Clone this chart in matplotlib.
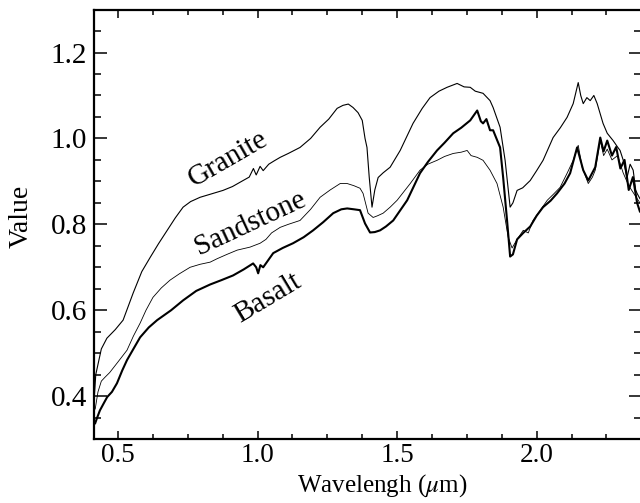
import numpy as np
import matplotlib
matplotlib.use("Agg")
import matplotlib.pyplot as plt
from matplotlib.ticker import MultipleLocator

plt.rcParams["font.family"] = ["Liberation Serif", "DejaVu Serif"]
plt.rcParams["mathtext.fontset"] = "stix"

# reflectance curves (wavelength in um, value)
granite_wl = [0.415, 0.42, 0.43, 0.44, 0.46, 0.49, 0.518, 0.554, 0.585, 0.615, 0.645,
              0.676, 0.705, 0.733, 0.76, 0.794, 0.83, 0.876, 0.91, 0.948, 0.97, 0.985,
              0.995, 1.009, 1.02, 1.04, 1.06, 1.081, 1.11, 1.152, 1.19, 1.224, 1.255,
              1.285, 1.306, 1.325, 1.342, 1.36, 1.375, 1.385, 1.392, 1.40, 1.41, 1.42,
              1.432, 1.45, 1.475, 1.511, 1.557, 1.59, 1.618, 1.65, 1.679, 1.715, 1.74,
              1.762, 1.78, 1.808, 1.833, 1.844, 1.869, 1.887, 1.905, 1.915, 1.93, 1.95,
              1.977, 2.0, 2.023, 2.059, 2.085, 2.109, 2.131, 2.149, 2.158, 2.167, 2.18,
              2.192, 2.205, 2.217, 2.238, 2.253, 2.274, 2.29, 2.299, 2.31, 2.324, 2.335,
              2.346, 2.355, 2.36, 2.37]
granite_val = [0.40, 0.45, 0.48, 0.51, 0.535, 0.555, 0.577, 0.64, 0.69, 0.723, 0.755,
               0.786, 0.815, 0.84, 0.853, 0.863, 0.87, 0.879, 0.888, 0.902, 0.91, 0.93,
               0.915, 0.935, 0.925, 0.94, 0.948, 0.956, 0.965, 0.979, 1.0, 1.026, 1.045,
               1.07, 1.077, 1.08, 1.072, 1.06, 1.042, 1.0, 0.979, 0.91, 0.84, 0.88,
               0.909, 0.92, 0.933, 0.972, 1.035, 1.07, 1.095, 1.11, 1.119, 1.128, 1.12,
               1.119, 1.11, 1.105, 1.088, 1.072, 1.026, 0.949, 0.84, 0.85, 0.879, 0.885,
               0.902, 0.925, 0.949, 1.002, 1.025, 1.049, 1.081, 1.13, 1.10, 1.081, 1.095,
               1.088, 1.10, 1.081, 1.035, 1.012, 0.995, 0.98, 0.972, 0.95, 0.909, 0.94,
               0.926, 0.88, 0.872, 0.86]

sandstone_wl = [0.418, 0.428, 0.44, 0.453, 0.47, 0.482, 0.50, 0.532, 0.555, 0.579, 0.60,
                0.625, 0.655, 0.686, 0.72, 0.758, 0.794, 0.83, 0.855, 0.89, 0.927, 0.973,
                1.009, 1.03, 1.05, 1.081, 1.11, 1.152, 1.19, 1.224, 1.26, 1.296, 1.321,
                1.345, 1.367, 1.378, 1.396, 1.414, 1.43, 1.45, 1.475, 1.50, 1.547, 1.582,
                1.61, 1.643, 1.67, 1.701, 1.73, 1.751, 1.765, 1.787, 1.808, 1.833, 1.858,
                1.88, 1.898, 1.912, 1.93, 1.952, 1.97, 1.987, 2.01, 2.038, 2.06, 2.084,
                2.11, 2.131, 2.149, 2.163, 2.185, 2.20, 2.21, 2.228, 2.24, 2.253, 2.27,
                2.29, 2.31, 2.33, 2.35, 2.37]
sandstone_val = [0.37, 0.41, 0.435, 0.444, 0.455, 0.465, 0.48, 0.507, 0.54, 0.57, 0.60,
                 0.63, 0.652, 0.67, 0.685, 0.70, 0.707, 0.712, 0.72, 0.73, 0.74, 0.747,
                 0.756, 0.765, 0.78, 0.793, 0.80, 0.809, 0.835, 0.863, 0.88, 0.895, 0.895,
                 0.89, 0.884, 0.872, 0.826, 0.816, 0.82, 0.826, 0.84, 0.856, 0.895, 0.926,
                 0.94, 0.949, 0.958, 0.965, 0.968, 0.972, 0.96, 0.956, 0.949, 0.926, 0.895,
                 0.84, 0.77, 0.745, 0.765, 0.786, 0.78, 0.809, 0.83, 0.856, 0.87, 0.886,
                 0.92, 0.949, 0.984, 0.933, 0.895, 0.91, 0.926, 0.995, 0.96, 0.975, 0.95,
                 0.96, 0.92, 0.89, 0.87, 0.85]

basalt_wl = [0.418, 0.425, 0.435, 0.45, 0.461, 0.478, 0.496, 0.515, 0.532, 0.555, 0.579,
             0.61, 0.64, 0.69, 0.733, 0.78, 0.83, 0.87, 0.912, 0.95, 0.984, 0.995, 1.002,
             1.01, 1.02, 1.056, 1.09, 1.127, 1.165, 1.199, 1.235, 1.271, 1.30, 1.321,
             1.345, 1.367, 1.385, 1.403, 1.42, 1.439, 1.46, 1.486, 1.536, 1.582, 1.61,
             1.643, 1.67, 1.701, 1.73, 1.762, 1.787, 1.80, 1.808, 1.82, 1.833, 1.844,
             1.869, 1.88, 1.894, 1.905, 1.915, 1.93, 1.952, 1.977, 2.0, 2.023, 2.05,
             2.073, 2.10, 2.12, 2.145, 2.167, 2.185, 2.21, 2.228, 2.24, 2.253, 2.27,
             2.285, 2.30, 2.315, 2.33, 2.345, 2.36, 2.37]
basalt_val = [0.337, 0.35, 0.367, 0.385, 0.398, 0.41, 0.43, 0.46, 0.484, 0.51, 0.537,
              0.56, 0.577, 0.60, 0.623, 0.645, 0.66, 0.67, 0.681, 0.695, 0.709, 0.70, 0.686,
              0.705, 0.70, 0.733, 0.745, 0.756, 0.77, 0.786, 0.805, 0.826, 0.835, 0.837,
              0.835, 0.833, 0.802, 0.781, 0.782, 0.786, 0.795, 0.809, 0.856, 0.919, 0.945,
              0.972, 0.99, 1.012, 1.025, 1.042, 1.065, 1.04, 1.035, 1.045, 1.019, 1.019,
              0.979, 0.909, 0.809, 0.725, 0.73, 0.765, 0.78, 0.795, 0.82, 0.84, 0.855,
              0.872, 0.895, 0.919, 0.979, 0.926, 0.902, 0.933, 1.002, 0.97, 0.995, 0.96,
              0.98, 0.93, 0.95, 0.88, 0.91, 0.85, 0.83]

labels = ["Granite", "Sandstone", "Basalt"]
label_pos = [(0.894, 0.953, 30), (0.973, 0.802, 25), (1.038, 0.628, 31)]

fig = plt.figure(figsize=(6.4, 5.03), dpi=100)
ax = fig.add_axes([0.147, 0.127, 0.855, 0.854])

ax.plot(granite_wl, granite_val, color="black", lw=0.8)
ax.plot(sandstone_wl, sandstone_val, color="black", lw=0.6)
ax.plot(basalt_wl, basalt_val, color="black", lw=1.5)

for name, (x, y, rot) in zip(labels, label_pos):
    ax.text(x, y, name, rotation=rot, ha="center", va="center", fontsize=21)

ax.set_xlim(0.414, 2.375)
ax.set_ylim(0.3, 1.3)
ax.xaxis.set_major_locator(MultipleLocator(0.5))
ax.xaxis.set_minor_locator(MultipleLocator(0.125))
ax.yaxis.set_major_locator(MultipleLocator(0.2))
ax.yaxis.set_minor_locator(MultipleLocator(0.05))
ax.xaxis.set_major_formatter(plt.FuncFormatter(lambda v, p: f"{v:.1f}"))
ax.yaxis.set_major_formatter(plt.FuncFormatter(lambda v, p: f"{v:.1f}"))

ax.tick_params(axis="both", which="both", direction="in", top=True, right=True,
               width=1.1, labelsize=21)
ax.tick_params(axis="x", which="major", length=6, pad=3, labelsize=19.5)
ax.tick_params(axis="x", which="minor", length=3.5)
ax.tick_params(axis="y", which="major", length=9, pad=5)
ax.tick_params(axis="y", which="minor", length=5)
for s in ax.spines.values():
    s.set_linewidth(1.6)

ax.set_xlabel("Wavelengh ($\\mu$m)", fontsize=18)
ax.set_ylabel("Value", fontsize=20)
ax.xaxis.set_label_coords(0.527, -0.076)
ax.yaxis.set_label_coords(-0.11, 0.519)

fig.savefig("out.png", dpi=100)
